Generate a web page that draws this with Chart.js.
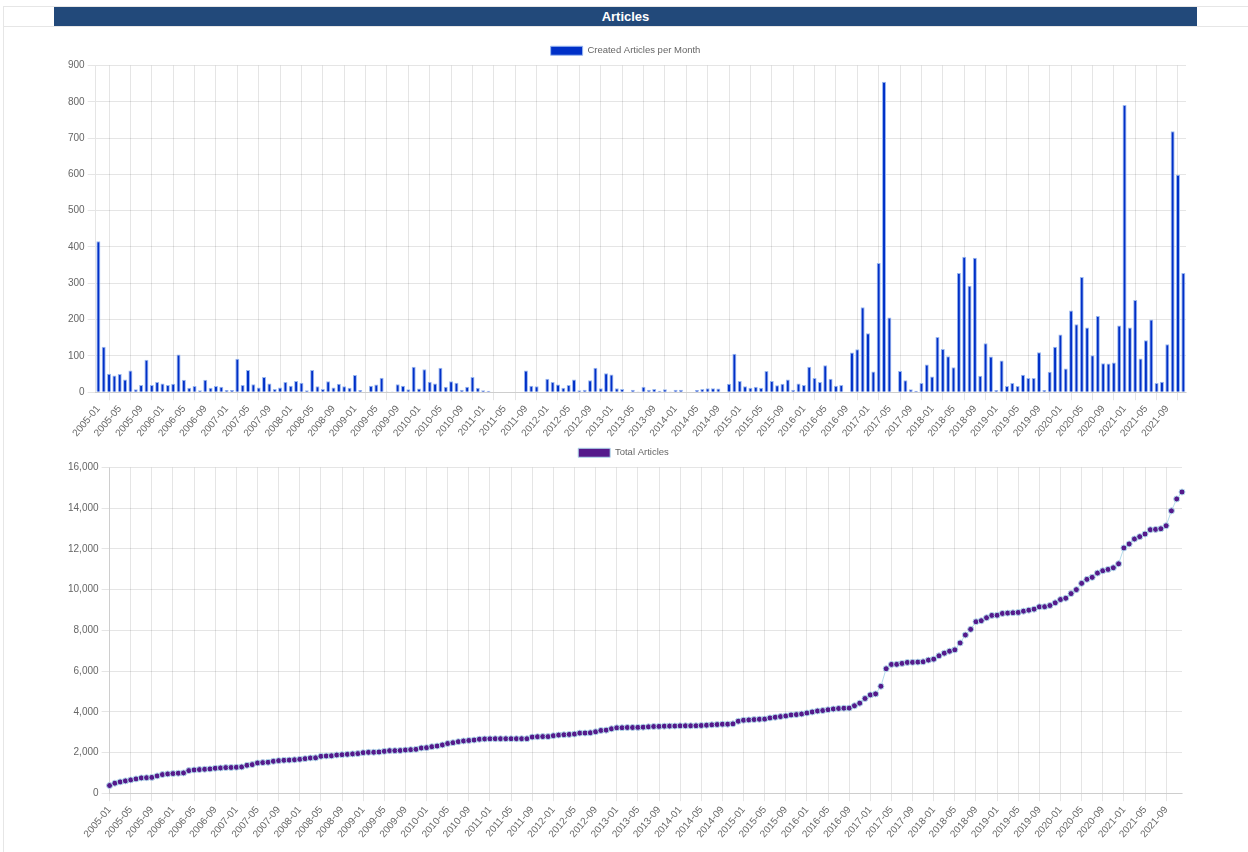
<!DOCTYPE html>
<html>
<head>
<meta charset="utf-8">
<script src="https://cdn.jsdelivr.net/npm/chart.js@4"></script>
<style>
  body { margin: 0; background: #fff; font-family: Arial, "Liberation Sans", sans-serif; }
  #frame { position: absolute; left: 3px; top: 6px; width: 1245px; height: 846px;
           border-left: 1px solid #e6e6e6; border-top: 1px solid #e6e6e6; }
  #rowline { position: absolute; left: 3px; top: 26px; width: 1245px; border-top: 1px solid #e6e6e6; }
  #title { position: absolute; left: 54px; top: 7px; width: 1143px; height: 19px; background: #22497a;
           color: #fff; font-weight: bold; font-size: 13px; line-height: 19px; text-align: center; }
  .box { position: absolute; left: 54px; width: 1144px; }
</style>
</head>
<body>
<div id="frame"></div>
<div id="rowline"></div>
<div id="title">Articles</div>
<div class="box" style="top:36px; height:406px"><canvas id="monthChart"></canvas></div>
<div class="box" style="top:438px; height:405px"><canvas id="totalChart"></canvas></div>
<script>
// months 2005-01 .. 2021-12
const months = [];
for (let y = 2005; y <= 2021; y++) {
  for (let m = 1; m <= 12; m++) months.push(y + "-" + (m < 10 ? "0" + m : m));
}

const createdPerMonth = [
  416, 125, 51, 46, 50, 35, 60, 8, 20, 89,
  20, 28, 24, 20, 23, 104, 34, 12, 17, 5,
  34, 12, 17, 15, 6, 6, 92, 20, 61, 22,
  13, 42, 24, 9, 13, 28, 18, 31, 26, 5,
  61, 16, 9, 30, 13, 23, 16, 12, 47, 6,
  1, 18, 21, 40, 2, 2, 22, 18, 8, 70,
  10, 63, 29, 24, 67, 15, 30, 26, 7, 15,
  42, 12, 5, 4, 0, 0, 0, 0, 0, 0,
  60, 18, 16, 0, 37, 28, 21, 12, 20, 35,
  5, 7, 33, 67, 11, 52, 49, 11, 9, 0,
  7, 2, 15, 7, 9, 4, 8, 2, 7, 7,
  0, 1, 6, 9, 11, 11, 10, 1, 23, 106,
  31, 16, 12, 15, 12, 58, 31, 19, 23, 35,
  7, 24, 20, 70, 39, 28, 74, 37, 18, 20,
  1, 109, 118, 234, 162, 57, 356, 855, 206, 0,
  58, 33, 8, 4, 25, 76, 43, 152, 119, 99,
  69, 328, 373, 293, 370, 45, 135, 98, 6, 87,
  17, 25, 17, 48, 39, 39, 110, 6, 56, 125,
  159, 65, 225, 187, 317, 178, 102, 210, 80, 79,
  82, 184, 791, 178, 254, 93, 143, 200, 25, 29,
  132, 719, 599, 328
];

const totalArticles = [
  375, 490, 555, 604, 652, 701, 750, 760, 775, 848,
  913, 946, 962, 979, 995, 1109, 1142, 1158, 1175, 1191,
  1223, 1240, 1256, 1262, 1272, 1289, 1370, 1403, 1485, 1501,
  1517, 1566, 1599, 1615, 1625, 1640, 1664, 1697, 1729, 1735,
  1811, 1827, 1835, 1876, 1892, 1909, 1930, 1945, 1990, 2007,
  2010, 2023, 2055, 2088, 2090, 2095, 2121, 2137, 2153, 2219,
  2235, 2284, 2316, 2370, 2440, 2480, 2530, 2565, 2590, 2610,
  2650, 2665, 2670, 2675, 2675, 2675, 2675, 2675, 2675, 2675,
  2757, 2773, 2780, 2780, 2822, 2854, 2870, 2886, 2903, 2951,
  2955, 2967, 3016, 3081, 3097, 3162, 3211, 3215, 3227, 3227,
  3232, 3243, 3259, 3275, 3280, 3292, 3295, 3298, 3308, 3310,
  3310, 3312, 3324, 3340, 3357, 3373, 3389, 3392, 3405, 3535,
  3584, 3600, 3616, 3632, 3640, 3697, 3730, 3762, 3794, 3843,
  3859, 3892, 3940, 3989, 4038, 4060, 4100, 4135, 4160, 4175,
  4179, 4293, 4423, 4650, 4829, 4878, 5252, 6114, 6325, 6330,
  6374, 6423, 6428, 6439, 6455, 6537, 6585, 6748, 6878, 6976,
  7041, 7382, 7772, 8049, 8423, 8472, 8618, 8732, 8740, 8829,
  8846, 8862, 8878, 8943, 8992, 9041, 9154, 9160, 9220, 9350,
  9512, 9577, 9805, 10000, 10309, 10504, 10602, 10813, 10927, 10992,
  11073, 11268, 12049, 12244, 12488, 12602, 12732, 12943, 12959, 12992,
  13138, 13870, 14455, 14797
];

const monthTicks = [0, 100, 200, 300, 400, 500, 600, 700, 800, 900];
const totalTicks = [0, 2000, 4000, 6000, 8000, 10000, 12000, 14000, 16000];

Chart.defaults.font.family = 'Arial, "Liberation Sans", sans-serif';
Chart.defaults.font.size = 10;
Chart.defaults.color = "#666";
Chart.defaults.animation = false;

const gridGray = "rgba(0,0,0,0.1)";
const legendLabels = { boxWidth: 32, boxHeight: 9, padding: 10, font: { size: 9.5 } };

// Created per month
new Chart(document.getElementById("monthChart"), {
  type: "bar",
  data: {
    labels: months,
    datasets: [
      {
        label: "Created Articles per Month",
        data: createdPerMonth,
        backgroundColor: "#0030c8",
        borderColor: "#9ab8f0",
        borderWidth: 1,
        barPercentage: 0.75,
        categoryPercentage: 1,
      },
    ],
  },
  options: {
    responsive: true,
    maintainAspectRatio: false,
    layout: { padding: { left: 11, right: 12, top: 0, bottom: 0 } },
    plugins: {
      legend: { labels: legendLabels },
      tooltip: { enabled: false },
    },
    scales: {
      x: {
        grid: {
          offset: false,
          color: (c) => (c.index % 4 === 2 ? gridGray : "transparent"),
        },
        ticks: {
          autoSkip: false,
          minRotation: 50,
          maxRotation: 50,
          callback: (v, i) => (i % 4 === 0 ? months[i] : ""),
        },
      },
      y: {
        min: 0,
        max: 900,
        afterBuildTicks: (axis) => { axis.ticks = monthTicks.map((v) => ({ value: v })); },
        grid: { color: gridGray },
      },
    },
  },
});

// Total articles
new Chart(document.getElementById("totalChart"), {
  type: "line",
  data: {
    labels: months,
    datasets: [
      {
        label: "Total Articles",
        data: totalArticles,
        borderColor: "#b3dcec",
        borderWidth: 1,
        backgroundColor: "#551a8b",
        pointBackgroundColor: "#551a8b",
        pointBorderColor: "#b3dcec",
        pointBorderWidth: 1,
        pointRadius: 3,
        tension: 0,
        fill: false,
      },
    ],
  },
  options: {
    responsive: true,
    maintainAspectRatio: false,
    layout: { padding: { left: 11, right: 16, top: 0, bottom: 0 } },
    plugins: {
      legend: { labels: legendLabels },
      tooltip: { enabled: false },
    },
    scales: {
      x: {
        grid: { color: (c) => (c.index % 4 === 0 ? gridGray : "transparent") },
        ticks: {
          autoSkip: false,
          minRotation: 50,
          maxRotation: 50,
          callback: (v, i) => (i % 4 === 0 ? months[i] : ""),
        },
      },
      y: {
        min: 0,
        max: 16000,
        afterBuildTicks: (axis) => { axis.ticks = totalTicks.map((v) => ({ value: v })); },
        grid: { color: gridGray },
      },
    },
  },
});
</script>
</body>
</html>
